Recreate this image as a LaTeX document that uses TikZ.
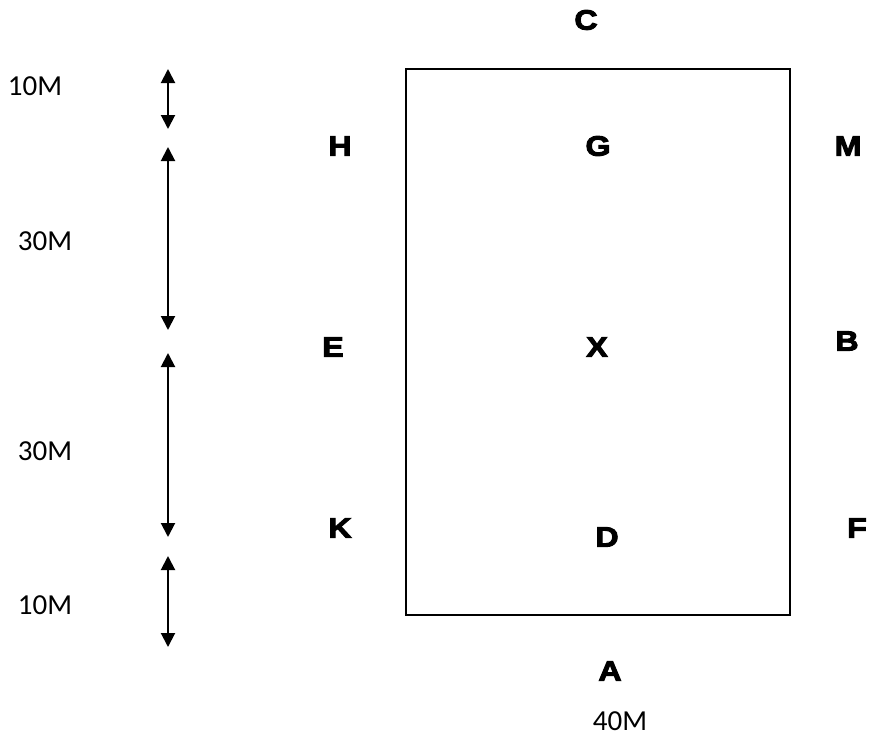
\documentclass[tikz,border=0pt]{standalone}
\usepackage{fontspec}
\setmainfont{Carlito}
\newfontfamily\heavy[FakeBold=3.5,FakeStretch=1.15]{Liberation Sans Bold}
\usetikzlibrary{arrows.meta}
\begin{document}
\begin{tikzpicture}[x=1pt,y=-1pt,
  pt/.style={font=\heavy\fontsize{28}{32}\selectfont, inner sep=0pt},
  dim/.style={font=\fontsize{29}{34}\selectfont, inner sep=0pt},
  dimarrow/.style={line width=2pt, {Triangle[width=14pt,length=14pt]}-{Triangle[width=14pt,length=14pt]}}]
\useasboundingbox (0,0) rectangle (870,736);
\draw[line width=1.5pt] (406,69) rectangle (790,615);
\node[pt] (C) at (586,20) {C};
\node[pt] (H) at (340,146) {H};
\node[pt] (G) at (598,146) {G};
\node[pt] (M) at (848,146) {M};
\node[pt] (E) at (333,347) {E};
\node[pt] (X) at (597,347) {X};
\node[pt] (B) at (847,341) {B};
\node[pt] (K) at (340,528) {K};
\node[pt] (D) at (607,537) {D};
\node[pt] (F) at (857,528) {F};
\node[pt] (A) at (610,671) {A};
\node[dim, anchor=base] (w) at (620,730) {40M};
\node[dim] (d1) at (35,86) {10M};
\node[dim] (d2) at (45,241) {30M};
\node[dim] (d3) at (45,451) {30M};
\node[dim] (d4) at (45,605) {10M};
\coordinate (a1t) at (168,69); \coordinate (a1b) at (168,129);
\coordinate (a2t) at (168,147); \coordinate (a2b) at (168,330);
\coordinate (a3t) at (168,353); \coordinate (a3b) at (168,537);
\coordinate (a4t) at (168,556); \coordinate (a4b) at (168,647);
\draw[dimarrow] (a1t) -- (a1b);
\draw[dimarrow] (a2t) -- (a2b);
\draw[dimarrow] (a3t) -- (a3b);
\draw[dimarrow] (a4t) -- (a4b);
\end{tikzpicture}
\end{document}
